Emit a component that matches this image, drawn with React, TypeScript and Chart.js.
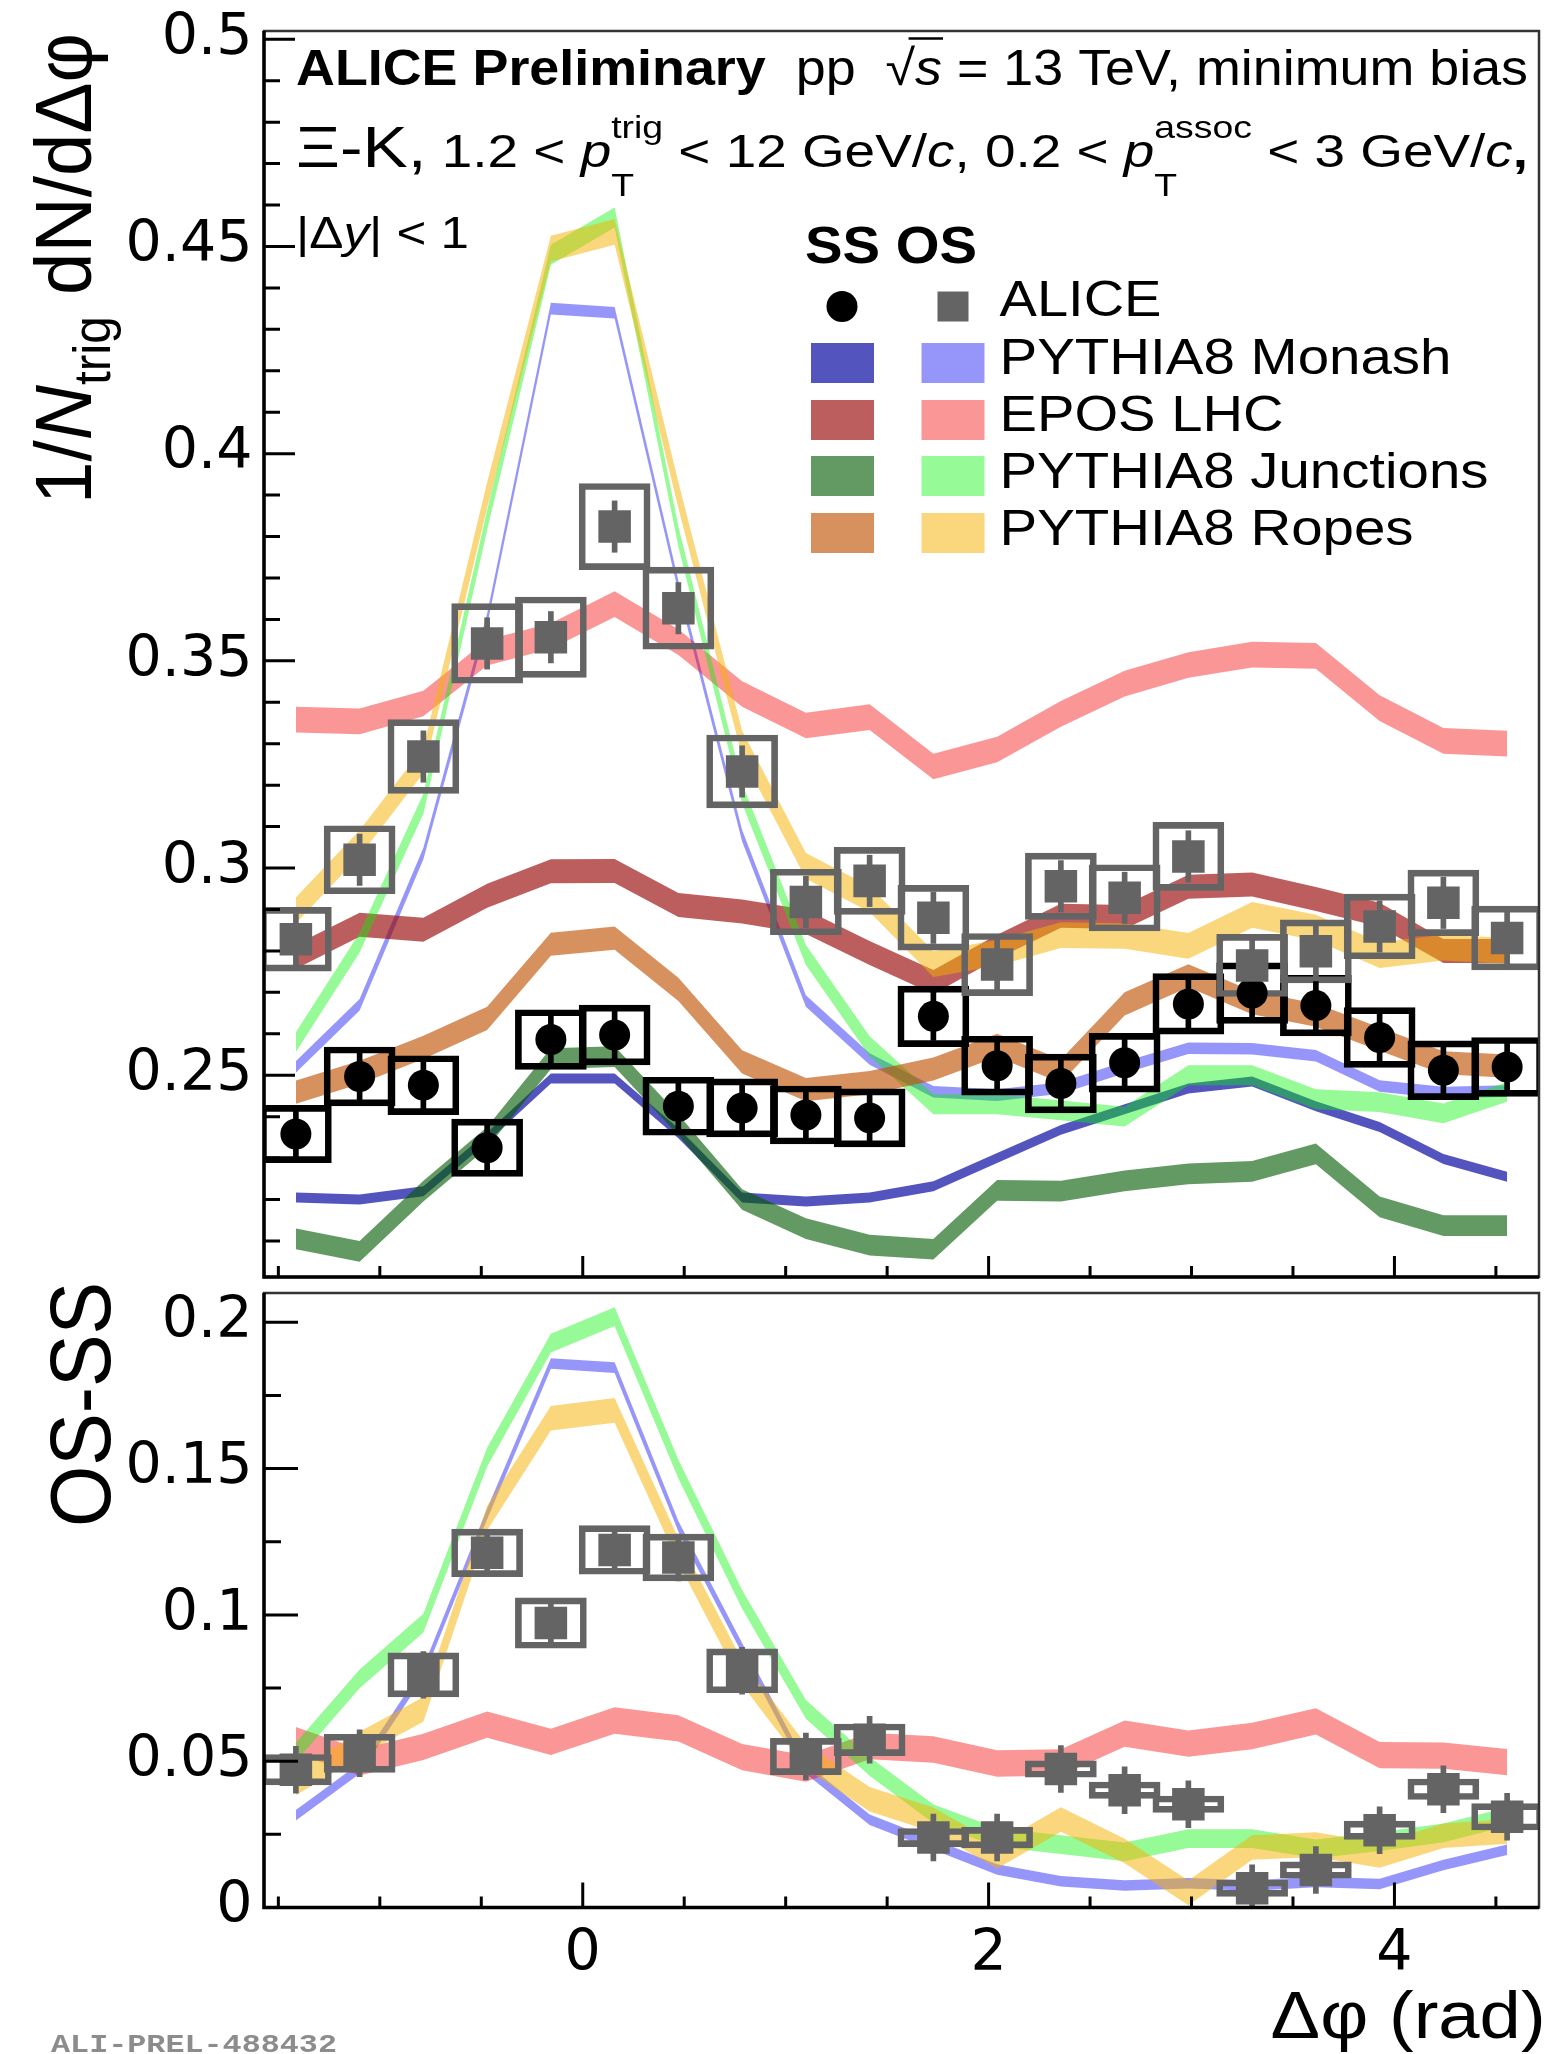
import React, { useEffect, useRef } from "react";
import { Chart, registerables } from "chart.js";

Chart.register(...registerables);

// ---------------- data ----------------
// Delta-phi bin centres (rad)
const dphiBins = [
  -1.4137, -1.0996, -0.7854, -0.4712, -0.1571, 0.1571, 0.4712, 0.7854, 1.0996, 1.4137,
  1.7279, 2.042, 2.3562, 2.6704, 2.9845, 3.2987, 3.6128, 3.927, 4.2412, 4.5553,
];

// ALICE same-sign (SS) and opposite-sign (OS) per-trigger yields
const ssYield = [0.2358, 0.2497, 0.2476, 0.2325, 0.2586, 0.2597, 0.2425, 0.2421, 0.2404, 0.2397, 0.2642, 0.2523, 0.248, 0.253, 0.2672, 0.2698, 0.2668, 0.2591, 0.2512, 0.252];
const ssStat = [0.0058, 0.0058, 0.0058, 0.0058, 0.0058, 0.0058, 0.0058, 0.0058, 0.0058, 0.0058, 0.0058, 0.0058, 0.0058, 0.0058, 0.0058, 0.0058, 0.0058, 0.0058, 0.0058, 0.0058];
const ssSys = [0.0069, 0.0071, 0.0071, 0.0069, 0.0072, 0.0072, 0.007, 0.007, 0.007, 0.007, 0.0073, 0.0071, 0.0071, 0.0071, 0.0073, 0.0073, 0.0073, 0.0072, 0.0071, 0.0071];
const osYield = [0.2828, 0.302, 0.3269, 0.3542, 0.3557, 0.3824, 0.3627, 0.3233, 0.2918, 0.2969, 0.288, 0.2767, 0.2956, 0.2928, 0.3028, 0.2765, 0.2799, 0.2859, 0.2916, 0.2831];
const osStat = [0.0062, 0.0062, 0.0062, 0.0062, 0.0062, 0.0062, 0.0062, 0.0062, 0.0062, 0.0062, 0.0062, 0.0062, 0.0062, 0.0062, 0.0062, 0.0062, 0.0062, 0.0062, 0.0062, 0.0062];
const osSys = [0.0077, 0.0082, 0.0089, 0.0096, 0.0097, 0.0104, 0.0099, 0.0088, 0.0079, 0.0081, 0.0078, 0.0075, 0.008, 0.008, 0.0082, 0.0075, 0.0076, 0.0078, 0.0079, 0.0077];

// ALICE OS - SS
const diffYield = [0.0471, 0.0527, 0.0795, 0.1212, 0.0972, 0.1222, 0.1196, 0.0809, 0.0516, 0.0573, 0.0239, 0.0239, 0.0473, 0.0401, 0.0353, 0.0066, 0.0128, 0.0264, 0.0404, 0.031];
const diffStat = [0.008, 0.008, 0.008, 0.008, 0.008, 0.008, 0.008, 0.008, 0.008, 0.008, 0.008, 0.008, 0.008, 0.008, 0.008, 0.008, 0.008, 0.008, 0.008, 0.008];
const diffSys = [0.0052, 0.0065, 0.0075, 0.0081, 0.0086, 0.0083, 0.008, 0.0075, 0.0062, 0.0054, 0.0031, 0.0035, 0.0028, 0.0028, 0.0028, 0.0028, 0.0028, 0.0031, 0.0035, 0.0045];

// Model predictions (band centres)
const monashSS = [0.2205, 0.22, 0.222, 0.235, 0.2492, 0.2492, 0.236, 0.2205, 0.2195, 0.2205, 0.2232, 0.23, 0.2368, 0.2418, 0.2468, 0.2485, 0.2425, 0.2375, 0.2298, 0.2255];
const monashOS = [0.252, 0.267, 0.3035, 0.36, 0.435, 0.434, 0.368, 0.3078, 0.2679, 0.2539, 0.246, 0.2452, 0.2469, 0.2519, 0.2565, 0.2564, 0.2547, 0.2474, 0.2458, 0.2462];
const eposSS = [0.2786, 0.2863, 0.2851, 0.2933, 0.2992, 0.2993, 0.2911, 0.2895, 0.287, 0.2795, 0.2725, 0.281, 0.2885, 0.2882, 0.2955, 0.296, 0.2925, 0.2887, 0.28, 0.28];
const eposOS = [0.3358, 0.3354, 0.3397, 0.352, 0.356, 0.3637, 0.3545, 0.342, 0.3344, 0.3364, 0.3245, 0.3286, 0.3372, 0.3445, 0.349, 0.3515, 0.3512, 0.3386, 0.3307, 0.33];
const junctionsSS = [0.2105, 0.2075, 0.222, 0.235, 0.254, 0.2545, 0.238, 0.22, 0.213, 0.209, 0.208, 0.2222, 0.222, 0.2245, 0.2262, 0.2268, 0.231, 0.2182, 0.2137, 0.2137];
const junctionsOS = [0.258, 0.282, 0.3155, 0.384, 0.448, 0.457, 0.38, 0.318, 0.279, 0.257, 0.243, 0.243, 0.2415, 0.24, 0.25, 0.25, 0.2442, 0.2435, 0.2408, 0.246];
const ropesSS = [0.2459, 0.2507, 0.2567, 0.2637, 0.2816, 0.2831, 0.2707, 0.2532, 0.2465, 0.2482, 0.2515, 0.2572, 0.251, 0.2672, 0.274, 0.2675, 0.2645, 0.2587, 0.253, 0.2522];
const ropesOS = [0.2898, 0.306, 0.326, 0.39, 0.4495, 0.4535, 0.39, 0.33, 0.3005, 0.2925, 0.2768, 0.2795, 0.2838, 0.2836, 0.2812, 0.2887, 0.2856, 0.279, 0.2808, 0.28];

const monashDiff = [0.0315, 0.0475, 0.0805, 0.1345, 0.1859, 0.1845, 0.1303, 0.0886, 0.0475, 0.03, 0.0215, 0.013, 0.009, 0.0075, 0.0083, 0.0075, 0.0087, 0.008, 0.0145, 0.0197];
const eposDiff = [0.0572, 0.0496, 0.0549, 0.0625, 0.0566, 0.0639, 0.0612, 0.0514, 0.0475, 0.0552, 0.054, 0.0492, 0.0496, 0.0594, 0.056, 0.0586, 0.0636, 0.0521, 0.0519, 0.0497];
const junctionsDiff = [0.0531, 0.0781, 0.0972, 0.1539, 0.1929, 0.2019, 0.1498, 0.1053, 0.0677, 0.0482, 0.032, 0.024, 0.0215, 0.019, 0.0235, 0.0235, 0.02, 0.0225, 0.0255, 0.031];
const ropesDiff = [0.0426, 0.0559, 0.0677, 0.1331, 0.1672, 0.1699, 0.1219, 0.0802, 0.0517, 0.037, 0.03, 0.0175, 0.0301, 0.0193, 0.005, 0.0205, 0.0215, 0.0178, 0.0245, 0.026];

// model band half-widths
const monashSSHalf = 0.0012;
const monashOSHalf = 0.0014;
const eposSSHalf = 0.0029;
const eposOSHalf = 0.0031;
const junctionsSSHalf = 0.0025;
const junctionsOSHalf = 0.0024;
const ropesSSHalf = 0.0028;
const ropesOSHalf = 0.0031;
const monashDiffHalf = 0.0018;
const eposDiffHalf = 0.0045;
const junctionsDiffHalf = 0.0032;
const ropesDiffHalf = 0.0042;

// axes
const topYTicks = [0.25, 0.3, 0.35, 0.4, 0.45, 0.5];
const topYMinorTicks = [0.21, 0.22, 0.23, 0.24, 0.26, 0.27, 0.28, 0.29, 0.31, 0.32, 0.33, 0.34, 0.36, 0.37, 0.38, 0.39, 0.41, 0.42, 0.43, 0.44, 0.46, 0.47, 0.48, 0.49];
const bottomYTicks = [0, 0.05, 0.1, 0.15, 0.2];
const bottomYMinorTicks = [0.025, 0.075, 0.125, 0.175];
const xTicks = [0, 2, 4];
const xMinorTicks = [-1.5, -1, -0.5, 0.5, 1, 1.5, 2.5, 3, 3.5, 4.5];
const legendLabels = ["ALICE", "PYTHIA8 Monash", "EPOS LHC", "PYTHIA8 Junctions", "PYTHIA8 Ropes"];

// ---------------- styles ----------------
const COL = {
  monashSS: "rgba(0,0,158,0.67)",
  monashOS: "rgba(0,0,244,0.41)",
  eposSS: "rgba(151,0,0,0.63)",
  eposOS: "rgba(244,0,0,0.41)",
  junctionsSS: "rgba(0,90,0,0.61)",
  junctionsOS: "rgba(0,244,0,0.41)",
  ropesSS: "rgba(191,80,0,0.63)",
  ropesOS: "rgba(245,176,0,0.51)",
  ss: "#000000",
  os: "#646464",
};
const FAMILY = '"Liberation Sans", Arial, sans-serif';
const TICK_FONT = { family: '"DejaVu Sans", sans-serif', size: 57 };
const PAGE_W = 1562;
const PAGE_H = 2054;
const TOP_H = 1300;
const BOT_TOP = 1270;
const BOT_H = PAGE_H - BOT_TOP;
const PLOT_LEFT = 264;
const PLOT_RIGHT = 1555.5;
const TOP_PLOT_TOP = 31;
const SPLIT_Y = 1280.5;
const BOT_PLOT_BOTTOM = 1907.5;
const STRETCH = 1.08;

// ---------------- helpers ----------------
function bandDatasets(center: number[], half: number, color: string, order: number) {
  return [
    {
      type: "line",
      data: dphiBins.map((x, i) => ({ x, y: center[i] - half })),
      borderWidth: 0,
      pointRadius: 0,
      fill: false,
      tension: 0,
      order,
    },
    {
      type: "line",
      data: dphiBins.map((x, i) => ({ x, y: center[i] + half })),
      borderWidth: 0,
      pointRadius: 0,
      backgroundColor: color,
      fill: "-1",
      tension: 0,
      order,
    },
  ];
}

function boxDataset(vals: number[], sys: number[], color: string, order: number) {
  return {
    type: "bar",
    data: dphiBins.map((x, i) => ({ x, y: [vals[i] - sys[i], vals[i] + sys[i]] })),
    backgroundColor: "rgba(0,0,0,0)",
    borderColor: color,
    borderWidth: 6,
    borderSkipped: false,
    barThickness: 71,
    grouped: false,
    order,
  };
}

function statDataset(vals: number[], stat: number[], color: string, order: number) {
  return {
    type: "bar",
    data: dphiBins.map((x, i) => ({ x, y: [vals[i] - stat[i], vals[i] + stat[i]] })),
    backgroundColor: color,
    borderWidth: 0,
    barThickness: 5,
    grouped: false,
    order,
  };
}

function markerDataset(vals: number[], style: string, radius: number, color: string, order: number) {
  return {
    type: "line",
    showLine: false,
    data: dphiBins.map((x, i) => ({ x, y: vals[i] })),
    pointStyle: style,
    pointRadius: radius,
    pointBackgroundColor: color,
    pointBorderColor: color,
    pointBorderWidth: 0,
    order,
  };
}

type Seg = {
  t?: string;
  size: number;
  bold?: boolean;
  italic?: boolean;
  dy?: number;
  over?: boolean;
  sup?: string;
  sub?: string;
  supDy?: number;
  subDy?: number;
  family?: string;
};

function fontOf(s: Seg) {
  return `${s.italic ? "italic " : ""}${s.bold ? "bold " : ""}${s.size}px ${s.family || FAMILY}`;
}

function segWidth(ctx: CanvasRenderingContext2D, s: Seg) {
  ctx.font = fontOf(s);
  if (s.sup !== undefined || s.sub !== undefined) {
    return Math.max(ctx.measureText(s.sup || "").width, ctx.measureText(s.sub || "").width);
  }
  return ctx.measureText(s.t || "").width;
}

function drawRich(
  ctx: CanvasRenderingContext2D,
  segs: Seg[],
  x: number,
  y: number,
  opt: { width?: number; rotate?: boolean; color?: string; align?: "left" | "right"; across?: number }
) {
  const natural = segs.reduce((a, s) => a + segWidth(ctx, s), 0);
  const k = opt.width ? opt.width / natural : STRETCH;
  ctx.save();
  ctx.translate(x, y);
  if (opt.rotate) {
    ctx.rotate(-Math.PI / 2);
    ctx.scale(k, opt.across ?? STRETCH);
  } else {
    ctx.scale(k, 1);
  }
  ctx.fillStyle = opt.color || "#000";
  ctx.strokeStyle = opt.color || "#000";
  ctx.textAlign = "left";
  ctx.textBaseline = "alphabetic";
  let cx = opt.align === "right" ? -natural : 0;
  for (const s of segs) {
    const w = segWidth(ctx, s);
    ctx.font = fontOf(s);
    if (s.sup !== undefined || s.sub !== undefined) {
      if (s.sup) ctx.fillText(s.sup, cx, s.supDy ?? -s.size);
      if (s.sub) ctx.fillText(s.sub, cx, s.subDy ?? s.size * 0.8);
    } else {
      ctx.fillText(s.t || "", cx, s.dy || 0);
      if (s.over) {
        ctx.lineWidth = 2.5;
        ctx.beginPath();
        ctx.moveTo(cx - 6, -s.size * 0.93);
        ctx.lineTo(cx + w + 1, -s.size * 0.93);
        ctx.stroke();
      }
    }
    cx += w;
  }
  ctx.restore();
}

function drawAxesDecor(
  chart: any,
  yMajor: number[],
  yMinor: number[],
  yMajLen: number,
  yMinLen: number,
  xMajLen: number,
  xMinLen: number
) {
  const ctx: CanvasRenderingContext2D = chart.ctx;
  const { left, right, top, bottom } = chart.chartArea;
  const xs = chart.scales.x;
  const ys = chart.scales.y;
  ctx.save();
  ctx.strokeStyle = "#000";
  ctx.lineWidth = 3;
  ctx.beginPath();
  for (const v of yMajor) {
    const p = ys.getPixelForValue(v);
    ctx.moveTo(left, p);
    ctx.lineTo(left + yMajLen, p);
  }
  for (const v of yMinor) {
    const p = ys.getPixelForValue(v);
    ctx.moveTo(left, p);
    ctx.lineTo(left + yMinLen, p);
  }
  for (const v of xTicks) {
    const p = xs.getPixelForValue(v);
    ctx.moveTo(p, bottom);
    ctx.lineTo(p, bottom - xMajLen);
  }
  for (const v of xMinorTicks) {
    const p = xs.getPixelForValue(v);
    ctx.moveTo(p, bottom);
    ctx.lineTo(p, bottom - xMinLen);
  }
  ctx.stroke();
  // frame
  ctx.lineWidth = 2.5;
  ctx.strokeStyle = "#333";
  ctx.strokeRect(left, top, right - left, bottom - top);
  ctx.lineWidth = 3.5;
  ctx.strokeStyle = "#000";
  ctx.beginPath();
  ctx.moveTo(left, top);
  ctx.lineTo(left, bottom);
  ctx.lineTo(right, bottom);
  ctx.stroke();
  ctx.restore();
}

const topDecor = {
  id: "topDecor",
  afterDraw(chart: any) {
    const ctx: CanvasRenderingContext2D = chart.ctx;
    drawAxesDecor(chart, topYTicks, topYMinorTicks, 31, 16, 21, 11);

    // header lines
    drawRich(
      ctx,
      [
        { t: "ALICE Preliminary", size: 50, bold: true },
        { t: "  pp  ", size: 50 },
        { t: "\u221A", size: 50 },
        { t: "s", size: 50, italic: true, over: true },
        { t: " = 13 TeV, minimum bias", size: 50 },
      ],
      296,
      85,
      { width: 1232 }
    );
    drawRich(
      ctx,
      [
        { t: "\u039E-K,", size: 58 },
        { t: " 1.2 < ", size: 47 },
        { t: "p", size: 47, italic: true },
        { sup: "trig", sub: "T", size: 32, supDy: -29, subDy: 29 },
        { t: " < 12 GeV/", size: 47 },
        { t: "c", size: 47, italic: true },
        { t: ", 0.2 < ", size: 47 },
        { t: "p", size: 47, italic: true },
        { sup: "assoc", sub: "T", size: 32, supDy: -29, subDy: 29 },
        { t: " < 3 GeV/", size: 47 },
        { t: "c", size: 47, italic: true },
        { t: ",", size: 47, bold: true },
      ],
      296,
      167,
      { width: 1232 }
    );
    drawRich(
      ctx,
      [
        { t: "|\u0394", size: 44 },
        { t: "y", size: 44, italic: true },
        { t: "| < 1", size: 44 },
      ],
      296,
      248,
      { width: 173 }
    );

    // legend
    drawRich(ctx, [{ t: "SS OS", size: 52, bold: true }], 805, 263, { width: 172 });
    const rowY = [306.5, 363, 420, 476, 533];
    const baseY = [316, 374, 431, 488, 545];
    const widths = [162, 452, 284, 489, 414];
    legendLabels.forEach((lab, i) => {
      drawRich(ctx, [{ t: lab, size: 50 }], 999.5, baseY[i], { width: widths[i] });
    });
    ctx.save();
    ctx.fillStyle = COL.ss;
    ctx.beginPath();
    ctx.arc(842, rowY[0], 15.5, 0, Math.PI * 2);
    ctx.fill();
    ctx.fillStyle = COL.os;
    ctx.fillRect(953 - 15.5, rowY[0] - 15, 31, 30);
    const sw = [
      [COL.monashSS, COL.monashOS],
      [COL.eposSS, COL.eposOS],
      [COL.junctionsSS, COL.junctionsOS],
      [COL.ropesSS, COL.ropesOS],
    ];
    sw.forEach((pair, i) => {
      ctx.fillStyle = pair[0];
      ctx.fillRect(842.5 - 31.5, rowY[i + 1] - 20, 63, 40);
      ctx.fillStyle = pair[1];
      ctx.fillRect(953 - 31.5, rowY[i + 1] - 20, 63, 40);
    });
    ctx.restore();

    // y title
    drawRich(
      ctx,
      [
        { t: "1/", size: 74 },
        { t: "N", size: 74, italic: true },
        { t: "trig", size: 48, dy: 18 },
        { t: " dN/d\u0394\u03C6", size: 74 },
      ],
      91,
      504,
      { rotate: true, width: 471 }
    );
  },
};

const bottomDecor = {
  id: "bottomDecor",
  afterDraw(chart: any) {
    const ctx: CanvasRenderingContext2D = chart.ctx;
    drawAxesDecor(chart, bottomYTicks, bottomYMinorTicks, 34, 17, 25, 11);
    ctx.save();
    ctx.translate(0, -BOT_TOP);
    drawRich(ctx, [{ t: "OS-SS", size: 79 }], 110, 1527, { rotate: true, width: 245 });
    drawRich(
      ctx,
      [{ t: "\u0394\u03C6 (rad)", size: 66 }],
      1545.6,
      2037.5,
      { width: 275, align: "right" }
    );
    drawRich(
      ctx,
      [{ t: "ALI-PREL-488432", size: 26, bold: true, family: '"Liberation Mono", monospace' }],
      51,
      2052,
      { width: 286, color: "#8c8c8c" }
    );
    ctx.restore();
  },
};

function commonOptions(yMin: number, yMax: number, yTicks: number[], padTop: number, xHeight: number, showX: boolean) {
  return {
    responsive: false,
    animation: false,
    devicePixelRatio: 1,
    events: [],
    layout: { padding: { left: 0, right: PAGE_W - PLOT_RIGHT, top: padTop, bottom: 0 } },
    plugins: { legend: { display: false }, tooltip: { enabled: false }, title: { display: false } },
    scales: {
      x: {
        type: "linear",
        min: -Math.PI / 2,
        max: (3 * Math.PI) / 2,
        offset: false,
        grid: { display: false, drawTicks: false },
        border: { display: false },
        ticks: {
          display: showX,
          font: TICK_FONT,
          color: "#000",
          padding: 13,
          autoSkip: false,
          maxRotation: 0,
          callback: (v: number) => String(v),
        },
        afterBuildTicks: (a: any) => {
          a.ticks = xTicks.map((v) => ({ value: v }));
        },
        afterFit: (s: any) => {
          s.height = xHeight;
          s.paddingLeft = 0;
          s.paddingRight = 0;
          s.paddingTop = 0;
          s.paddingBottom = 0;
        },
      },
      y: {
        type: "linear",
        min: yMin,
        max: yMax,
        grid: { display: false, drawTicks: false },
        border: { display: false },
        ticks: {
          font: TICK_FONT,
          color: "#000",
          padding: 11.5,
          autoSkip: false,
          callback: (v: number) => String(v),
        },
        afterBuildTicks: (a: any) => {
          a.ticks = yTicks.map((v) => ({ value: v }));
        },
        afterFit: (s: any) => {
          s.width = PLOT_LEFT;
          s.paddingLeft = 0;
          s.paddingRight = 0;
          s.paddingTop = 0;
          s.paddingBottom = 0;
        },
      },
    },
  };
}

function topConfig(): any {
  const datasets: any[] = [
    ...bandDatasets(monashSS, monashSSHalf, COL.monashSS, 30),
    ...bandDatasets(monashOS, monashOSHalf, COL.monashOS, 29),
    ...bandDatasets(eposSS, eposSSHalf, COL.eposSS, 28),
    ...bandDatasets(eposOS, eposOSHalf, COL.eposOS, 27),
    ...bandDatasets(junctionsSS, junctionsSSHalf, COL.junctionsSS, 26),
    ...bandDatasets(junctionsOS, junctionsOSHalf, COL.junctionsOS, 25),
    ...bandDatasets(ropesSS, ropesSSHalf, COL.ropesSS, 24),
    ...bandDatasets(ropesOS, ropesOSHalf, COL.ropesOS, 23),
    boxDataset(ssYield, ssSys, COL.ss, 8),
    boxDataset(osYield, osSys, COL.os, 7),
    statDataset(ssYield, ssStat, COL.ss, 4),
    statDataset(osYield, osStat, COL.os, 4),
    markerDataset(ssYield, "circle", 15.5, COL.ss, 2),
    markerDataset(osYield, "rect", 23, COL.os, 1),
  ];
  return {
    type: "line",
    data: { datasets },
    options: commonOptions(0.2013, 0.502, topYTicks, TOP_PLOT_TOP, TOP_H - SPLIT_Y, false),
    plugins: [topDecor],
  };
}

function bottomConfig(): any {
  const datasets: any[] = [
    ...bandDatasets(monashDiff, monashDiffHalf, COL.monashOS, 29),
    ...bandDatasets(eposDiff, eposDiffHalf, COL.eposOS, 27),
    ...bandDatasets(junctionsDiff, junctionsDiffHalf, COL.junctionsOS, 25),
    ...bandDatasets(ropesDiff, ropesDiffHalf, COL.ropesOS, 23),
    boxDataset(diffYield, diffSys, COL.os, 7),
    statDataset(diffYield, diffStat, COL.os, 4),
    markerDataset(diffYield, "rect", 23, COL.os, 1),
  ];
  return {
    type: "line",
    data: { datasets },
    options: commonOptions(0, 0.21, bottomYTicks, SPLIT_Y - BOT_TOP, BOT_H - (BOT_PLOT_BOTTOM - BOT_TOP), true),
    plugins: [bottomDecor],
  };
}

export default function App() {
  const topRef = useRef<HTMLCanvasElement>(null);
  const botRef = useRef<HTMLCanvasElement>(null);
  useEffect(() => {
    const top = new Chart(topRef.current as HTMLCanvasElement, topConfig());
    const bot = new Chart(botRef.current as HTMLCanvasElement, bottomConfig());
    return () => {
      top.destroy();
      bot.destroy();
    };
  }, []);
  return (
    <div
      style={{
        position: "absolute",
        left: 0,
        top: 0,
        width: PAGE_W,
        height: PAGE_H,
        background: "#fff",
        overflow: "hidden",
      }}
    >
      <canvas ref={topRef} width={PAGE_W} height={TOP_H} style={{ position: "absolute", left: 0, top: 0 }} />
      <canvas ref={botRef} width={PAGE_W} height={BOT_H} style={{ position: "absolute", left: 0, top: BOT_TOP }} />
    </div>
  );
}
